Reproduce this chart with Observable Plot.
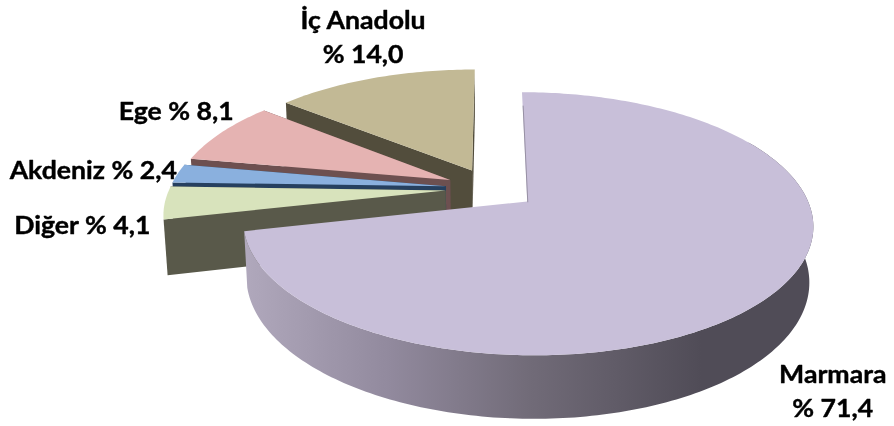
<!DOCTYPE html>
<html>
<head>
<meta charset="utf-8">
<style>html,body{margin:0;padding:0;background:#fff}svg{display:block;filter:blur(0.5px)}</style>
<script src="https://cdn.jsdelivr.net/npm/d3@7"></script>
<script src="https://cdn.jsdelivr.net/npm/@observablehq/plot@0.6"></script>
</head>
<body>
<script>
// Data, clockwise from twelve o'clock
const regions = ["Marmara", "Diğer", "Akdeniz", "Ege", "İç Anadolu"];
const shares = [71.4, 4.1, 2.4, 8.1, 14.0];
const shareLabels = ["% 71,4", "% 4,1", "% 2,4", "% 8,1", "% 14,0"];
const labelBreaks = [true, false, false, false, true];
const faceColors = ["#c8bfd9", "#d8e3bc", "#8ab0de", "#e5b3b2", "#c2b995"];
const wallColors = ["#6f6a76", "#59594a", "#26405f", "#6d5050", "#524d3c"];
const labelShift = [[55, 98], [-83, 20], [-85, -6], [-46, -24], [-12, -43]];

// 3D view of the pie: unit disc seen through a perspective transform
const view = {ox: 491, oy: 188.5, rx: 276, ry: 123.4, k: 0.167, m: 0.012, depth: 54.6, explode: 0.165};
const rad = (d) => d * Math.PI / 180;
function project(u, v, h) {
  const w = 1 + view.k * v + view.m * h;
  return [view.ox + view.rx * u / w, view.oy + (-view.ry * v + view.depth * h) / w];
}
const total = d3.sum(shares);
let acc = 0;
const slices = regions.map((name, i) => {
  const a0 = acc / total * 360;
  acc += shares[i];
  const a1 = acc / total * 360;
  const mid = (a0 + a1) / 2;
  const cu = view.explode * Math.sin(rad(mid));
  const cv = view.explode * Math.cos(rad(mid));
  const rim = (a, h, r = 1) => project(cu + r * Math.sin(rad(a)), cv + r * Math.cos(rad(a)), h);
  const tip = (h) => project(cu, cv, h);
  const angles = d3.range(a0, a1, 1).concat([a1]);
  return {name, i, a0, a1, mid, rim, tip, angles};
});

function strip(pairs, key) {
  return pairs.map(([p, q]) => ({x1: p[0], y1: p[1], x2: q[0], y2: q[1], key}));
}
const marks = [];
marks.push(() => {
  const defs = d3.create("svg:defs");
  const g = defs.append("linearGradient").attr("id", "marmaraWall")
    .attr("gradientUnits", "userSpaceOnUse").attr("x1", 245).attr("x2", 815).attr("y1", 0).attr("y2", 0);
  [[0, "#b0a8bc"], [0.25, "#928a9e"], [0.5, "#716b78"], [0.8, "#504c57"], [1, "#504c57"]]
    .forEach(([o, c]) => g.append("stop").attr("offset", o).attr("stop-color", c));
  return defs.node();
});

const drawOrder = [4, 3, 2, 1, 0];
for (const i of drawOrder) {
  const s = slices[i];
  if (i !== 0) {
    // radial walls
    for (const a of [s.a1, s.a0]) {
      marks.push(Plot.area(strip([[s.tip(0), s.tip(1)], [s.rim(a, 0), s.rim(a, 1)]]), {
        x1: "x1", y1: "y1", x2: "x2", y2: "y2", fill: wallColors[i]
      }));
    }
  } else {
    // outer wall of the large slice
    const front = s.angles.filter((a) => a >= 60);
    marks.push(Plot.area(strip(front.map((a) => [s.rim(a, 0), s.rim(a, 1)])), {
      x1: "x1", y1: "y1", x2: "x2", y2: "y2", fill: "url(#marmaraWall)"
    }));
  }
  // top face
  marks.push(Plot.area(strip(s.angles.map((a) => [s.tip(0), s.rim(a, 0)])), {
    x1: "x1", y1: "y1", x2: "x2", y2: "y2", fill: faceColors[i]
  }));
}

// the hairline along the first edge of the large slice
const big = slices[0];
const hair = [big.tip(0), big.rim(0, 0, 0.86)].map(([x, y]) => ({x, y}));
marks.push(Plot.line(hair, {x: "x", y: "y", stroke: "#8a8496", strokeWidth: 0.8}));

// labels, hung on each slice's rim mid point
slices.forEach((s) => {
  const at = s.rim(s.mid, 0);
  const text = s.name + (labelBreaks[s.i] ? "\n" : " ") + shareLabels[s.i];
  marks.push(Plot.text([{x: at[0], y: at[1], text}], {
    x: "x", y: "y", text: "text",
    dx: labelShift[s.i][0], dy: labelShift[s.i][1],
    fontFamily: "Lato", fontWeight: 700, fontSize: 24, lineHeight: 1.42,
    fill: "#000", stroke: "#000", strokeWidth: 0.4, className: "lbl"
  }));
});

const chart = Plot.plot({
  width: 894, height: 426,
  marginTop: 0, marginRight: 0, marginBottom: 0, marginLeft: 0,
  x: {domain: [0, 894], range: [0, 894], axis: null},
  y: {domain: [0, 426], range: [0, 426], axis: null},
  style: {background: "#fff"},
  marks
});
// the reference's lettering is stretched sideways
d3.select(chart).selectAll("g.lbl text, .lbl text").each(function () {
  this.setAttribute("transform", (this.getAttribute("transform") || "") + " scale(1.11,1)");
});
document.body.appendChild(chart);
</script>
</body>
</html>
